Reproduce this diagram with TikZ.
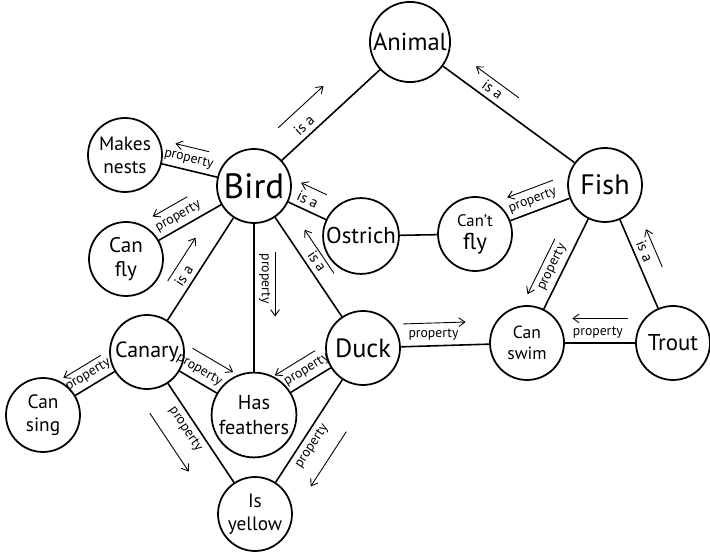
\documentclass[tikz,border=0pt]{standalone}
\usepackage{fontspec}
\setmainfont{PT Sans}
\usepackage{tikz}
\usetikzlibrary{arrows.meta, calc}

\newcommand{\relarrow}[6]{%
  \draw[relarrow] ($(#1)!#3!(#2)!#6!#5:(#2)$) -- ($(#1)!#4!(#2)!#6!#5:(#2)$);}

\begin{document}
\begin{tikzpicture}[x=0.02cm, y=-0.02cm,
  concept/.style={circle, draw, line width=1pt, minimum size=1.48cm, inner sep=1pt, align=center},
  link/.style={line width=0.9pt},
  lbl/.style={font=\fontsize{7.8}{8}\selectfont, inner sep=2.5pt},
  isa/.style={font=\fontsize{8.5}{9}\selectfont, inner sep=2.5pt},
  relarrow/.style={line width=0.5pt, -{Straight Barb[length=3.5pt, width=5pt]}}]
  \useasboundingbox (0,0) rectangle (710,553);

  \node[concept, font=\fontsize{14}{14}\selectfont] (animal) at (410,42) {Animal};
  \node[concept, font=\fontsize{20}{20}\selectfont] (bird) at (254,186) {Bird};
  \node[concept, font=\fontsize{11}{13}\selectfont] (mnests) at (125,155) {Makes\\nests};
  \node[concept, font=\fontsize{12}{14}\selectfont] (canfly) at (126,259) {Can\\fly};
  \node[concept, font=\fontsize{13}{13}\selectfont] (ostrich) at (361,236) {Ostrich};
  \node[concept, font=\fontsize{13}{13}\selectfont] (cantfly) at (475,234) {{\fontsize{9.5}{10}\selectfont Can't}\\fly};
  \node[concept, font=\fontsize{16}{16}\selectfont] (fish) at (605,185) {Fish};
  \node[concept, font=\fontsize{12.5}{13}\selectfont] (canary) at (147,352) {Canary};
  \node[concept, font=\fontsize{11.5}{14}\selectfont] (feathers) at (254,415) {Has\\feathers};
  \node[concept, font=\fontsize{15}{15}\selectfont] (duck) at (363,348) {Duck};
  \node[concept, font=\fontsize{10}{12}\selectfont] (canswim) at (527,343) {Can\\swim};
  \node[concept, font=\fontsize{13}{13}\selectfont] (trout) at (673,343) {Trout};
  \node[concept, font=\fontsize{11}{13}\selectfont] (cansing) at (43,415) {Can\\sing};
  \node[concept, font=\fontsize{11}{13}\selectfont] (yellow) at (255,514) {Is\\yellow};

  \draw[link] (bird) -- node[isa, sloped, above, pos=0.30] {is a} (animal);
  \draw[link] (animal) -- node[isa, sloped, above, pos=0.33] {is a} (fish);
  \draw[link] (bird) -- node[lbl, sloped, above, pos=0.56] {property} (mnests);
  \draw[link] (bird) -- node[lbl, sloped, above, pos=0.60] {property} (canfly);
  \draw[link] (bird) -- node[isa, sloped, above, pos=0.40] {is a} (ostrich);
  \draw[link] (ostrich) -- (cantfly);
  \draw[link] (cantfly) -- node[lbl, sloped, above, pos=0.44] {property} (fish);
  \draw[link] (canary) -- node[isa, sloped, above, pos=0.38] {is a} (bird);
  \draw[link] (bird) -- node[isa, sloped, above, pos=0.50] {is a} (duck);
  \draw[link] (bird) -- node[lbl, rotate=-90, anchor=south, pos=0.37] {property} (feathers);
  \draw[link] (canary) -- node[lbl, sloped, above, pos=0.38] {property} (feathers);
  \draw[link] (feathers) -- node[lbl, sloped, above, pos=0.54] {property} (duck);
  \draw[link] (cansing) -- node[lbl, sloped, above, pos=0.47] {property} (canary);
  \draw[link] (canary) -- node[lbl, sloped, below, pos=0.40] {property} (yellow);
  \draw[link] (yellow) -- node[lbl, sloped, below, pos=0.41] {property} (duck);
  \draw[link] (duck) -- node[lbl, above, pos=0.37] {property} (canswim);
  \draw[link] (canswim) -- node[lbl, sloped, above, pos=0.41] {property} (fish);
  \draw[link] (canswim) -- node[lbl, above, pos=0.47] {property} (trout);
  \draw[link] (fish) -- node[isa, sloped, above, pos=0.40] {is a} (trout);

  \relarrow{bird}{animal}{0.27}{0.56}{90}{15pt}
  \relarrow{fish}{animal}{0.50}{0.72}{-90}{11pt}
  \relarrow{bird}{mnests}{0.39}{0.65}{-90}{13pt}
  \relarrow{bird}{canfly}{0.43}{0.70}{-90}{13.5pt}
  \relarrow{ostrich}{bird}{0.41}{0.65}{-90}{13pt}
  \relarrow{fish}{cantfly}{0.34}{0.69}{-90}{13pt}
  \relarrow{canary}{bird}{0.36}{0.62}{90}{12pt}
  \relarrow{duck}{bird}{0.40}{0.67}{-90}{10pt}
  \relarrow{bird}{feathers}{0.29}{0.57}{90}{12pt}
  \relarrow{canary}{feathers}{0.30}{0.68}{90}{15pt}
  \relarrow{duck}{feathers}{0.33}{0.70}{-90}{13pt}
  \relarrow{canary}{cansing}{0.34}{0.70}{-90}{12pt}
  \relarrow{canary}{yellow}{0.27}{0.63}{-90}{18pt}
  \relarrow{duck}{yellow}{0.40}{0.73}{90}{18pt}
  \relarrow{duck}{canswim}{0.25}{0.63}{90}{13pt}
  \relarrow{fish}{canswim}{0.40}{0.75}{-90}{12pt}
  \relarrow{trout}{canswim}{0.31}{0.69}{-90}{14pt}
  \relarrow{trout}{fish}{0.43}{0.67}{-90}{11.5pt}
\end{tikzpicture}
\end{document}
